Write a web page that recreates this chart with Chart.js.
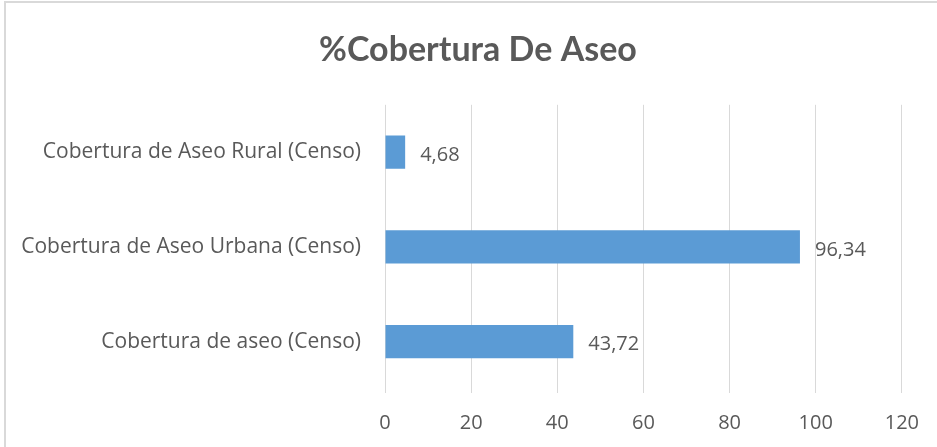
<!DOCTYPE html>
<html>
<head>
<meta charset="utf-8">
<script src="https://cdn.jsdelivr.net/npm/chart.js@4"></script>
<style>
  html, body { margin: 0; padding: 0; background: #fff; }
  #wrap { position: relative; width: 937px; height: 447px; }
  #frame {
    position: absolute; left: 4px; top: 1px; right: -10px; bottom: -10px;
    border-left: 2px solid #d9d9d9; border-top: 2px solid #d9d9d9;
  }
  canvas { position: absolute; left: 0; top: 0; }
</style>
</head>
<body>
<div id="wrap">
  <div id="frame"></div>
  <canvas id="myChart" width="937" height="447"></canvas>
</div>
<script>
// data
const categories = [
  "Cobertura de Aseo Rural (Censo)",
  "Cobertura de Aseo Urbana (Censo)",
  "Cobertura de aseo (Censo)"
];
const coverage = [4.68, 96.34, 43.72];
const xTicks = [0, 20, 40, 60, 80, 100, 120];

const textColor = "#595959";
const bodyFont = "Open Sans";

// draws the value next to each bar, with comma decimals
const valueLabels = {
  id: "valueLabels",
  afterDatasetsDraw(chart) {
    const ctx = chart.ctx;
    const meta = chart.getDatasetMeta(0);
    ctx.save();
    ctx.font = "20px " + bodyFont;
    ctx.fillStyle = textColor;
    ctx.textAlign = "left";
    ctx.textBaseline = "middle";
    meta.data.forEach((bar, i) => {
      const txt = coverage[i].toFixed(2).replace(".", ",");
      ctx.fillText(txt, bar.x + 15, bar.y + 3);
    });
    ctx.restore();
  }
};

window.addEventListener("load", function () {
  const data = {
    labels: categories,
    datasets: [
      {
        label: "%Cobertura De Aseo",
        data: coverage,
        backgroundColor: "#5b9bd5",
        borderWidth: 0,
        categoryPercentage: 1,
        barPercentage: 0.35,
      },
    ],
  };

  const config = {
    type: "bar",
    data,
    plugins: [valueLabels],
    options: {
      indexAxis: "y",
      responsive: false,
      animation: false,
      // left padding pushes the title centre to the right like the original
      layout: { padding: { left: 54, right: 35, top: 0, bottom: 0 } },
      plugins: {
        legend: { display: false },
        tooltip: { enabled: false },
        title: {
          display: true,
          text: "%Cobertura De Aseo",
          color: textColor,
          font: { family: "Lato", size: 34, weight: "bold", lineHeight: 1.2 },
          padding: { top: 30, bottom: 34 },
        },
      },
      scales: {
        x: {
          min: 0,
          max: 120,
          afterBuildTicks: (axis) => {
            axis.ticks = xTicks.map((v) => ({ value: v }));
          },
          afterFit: (axis) => { axis.height = 58; },
          border: { display: false },
          grid: { color: "#d9d9d9", lineWidth: 1, tickLength: 4 },
          ticks: {
            color: textColor,
            font: { family: bodyFont, size: 20 },
            padding: 18,
          },
        },
        y: {
          afterFit: (axis) => {
            axis.width = 331;
            // long labels run past the axis box, so don't clip them
            axis._computeLabelArea = () => undefined;
          },
          border: { display: false },
          grid: { display: false, drawTicks: false },
          ticks: {
            color: textColor,
            font: { family: bodyFont, size: 21 },
            padding: 24,
          },
        },
      },
    },
  };

  const myChart = new Chart(document.getElementById("myChart"), config);
});
</script>
</body>
</html>
